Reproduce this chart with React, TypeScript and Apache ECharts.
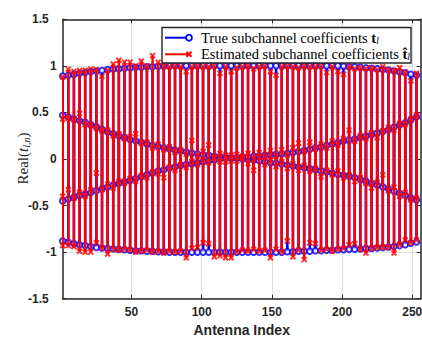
import React, { useEffect, useRef } from "react";
import * as echarts from "echarts";

// Antenna indices at which the subchannel coefficients are shown
const antennaIndex = [
  1, 5, 9, 13, 17, 21, 25, 29, 33, 37, 41, 45, 49, 53, 57, 61,
  65, 69, 73, 77, 81, 85, 89, 93, 97, 101, 105, 109, 113, 117, 121, 125,
  129, 133, 137, 141, 145, 149, 153, 157, 161, 165, 169, 173, 177, 181, 185, 189,
  193, 197, 201, 205, 209, 213, 217, 221, 225, 229, 233, 237, 241, 245, 249, 253,
];

// True subchannel coefficients (real part), four subchannels
const trueUpper = [
  0.89, 0.9, 0.91, 0.92, 0.93, 0.94, 0.945, 0.95,
  0.96, 0.965, 0.97, 0.975, 0.98, 0.985, 0.985, 0.99,
  0.99, 0.995, 0.995, 1.0, 1.0, 1.0, 1.0, 1.0,
  1.0, 1.0, 1.0, 1.0, 1.0, 1.0, 1.0, 1.0,
  1.0, 1.0, 1.0, 1.0, 1.0, 1.0, 1.0, 1.0,
  1.0, 1.0, 1.0, 1.0, 1.0, 1.0, 1.0, 1.0,
  1.0, 1.0, 0.995, 0.99, 0.99, 0.985, 0.98, 0.975,
  0.97, 0.96, 0.955, 0.945, 0.935, 0.925, 0.91, 0.9,
];
const trueLower = [
  -0.88, -0.895, -0.91, -0.92, -0.93, -0.94, -0.95, -0.955,
  -0.96, -0.965, -0.97, -0.975, -0.98, -0.985, -0.985, -0.99,
  -0.99, -0.995, -0.995, -1.0, -1.0, -1.0, -1.0, -1.0,
  -1.0, -1.0, -1.0, -1.0, -1.0, -1.0, -1.0, -1.0,
  -1.0, -1.0, -1.0, -1.0, -1.0, -1.0, -1.0, -1.0,
  -0.995, -0.995, -0.99, -0.99, -0.99, -0.985, -0.985, -0.98,
  -0.98, -0.975, -0.975, -0.97, -0.97, -0.965, -0.96, -0.96,
  -0.955, -0.95, -0.945, -0.94, -0.93, -0.92, -0.905, -0.89,
];
const trueFalling = [
  0.47, 0.45, 0.43, 0.41, 0.395, 0.37, 0.345, 0.32,
  0.29, 0.27, 0.25, 0.23, 0.21, 0.195, 0.18, 0.16,
  0.145, 0.135, 0.12, 0.11, 0.095, 0.085, 0.075, 0.065,
  0.055, 0.045, 0.04, 0.03, 0.025, 0.015, 0.01, 0.005,
  0.0, -0.005, -0.01, -0.02, -0.03, -0.04, -0.045, -0.055,
  -0.065, -0.075, -0.085, -0.095, -0.105, -0.115, -0.125, -0.14,
  -0.15, -0.165, -0.175, -0.185, -0.2, -0.22, -0.24, -0.26,
  -0.28, -0.3, -0.32, -0.345, -0.37, -0.39, -0.42, -0.44,
];
const trueRising = [
  -0.45, -0.43, -0.41, -0.39, -0.375, -0.36, -0.34, -0.32,
  -0.3, -0.28, -0.26, -0.245, -0.23, -0.21, -0.19, -0.17,
  -0.15, -0.13, -0.115, -0.1, -0.085, -0.07, -0.06, -0.05,
  -0.04, -0.03, -0.02, -0.01, 0.0, 0.005, 0.01, 0.015,
  0.02, 0.025, 0.03, 0.035, 0.04, 0.045, 0.05, 0.055,
  0.06, 0.07, 0.08, 0.09, 0.105, 0.12, 0.13, 0.145,
  0.16, 0.175, 0.19, 0.205, 0.215, 0.23, 0.245, 0.26,
  0.28, 0.295, 0.315, 0.34, 0.365, 0.39, 0.42, 0.45,
];

// Estimated subchannel coefficients (real part)
const estUpper = [
  0.88, 0.965, 0.94, 0.95, 0.95, 0.965, 0.96, 0.89,
  0.95, 1.02, 1.06, 1.04, 1.04, 1.0, 1.05, 1.0,
  1.11, 1.04, 1.0, 0.99, 1.0, 0.99, 0.94, 0.99,
  1.0, 0.99, 0.99, 1.0, 0.92, 0.99, 0.94, 0.98,
  0.99, 1.0, 0.97, 0.99, 1.0, 0.94, 0.9, 0.99,
  1.0, 0.99, 0.98, 1.0, 0.99, 0.99, 1.0, 0.93,
  0.99, 0.94, 0.91, 0.99, 0.97, 0.98, 0.97, 0.98,
  0.96, 0.99, 0.96, 0.95, 0.98, 0.93, 0.84, 0.92,
];
const estLower = [
  -0.93, -0.93, -0.94, -0.99, -1.0, -1.0, -0.9, -0.96,
  -1.02, -0.97, -0.98, -0.97, -0.98, -1.0, -0.99, -0.98,
  -1.0, -0.99, -1.01, -0.99, -1.0, -0.99, -1.06, -0.96,
  -0.95, -0.9, -0.91, -1.05, -1.04, -1.06, -1.06, -1.0,
  -0.98, -0.99, -0.97, -0.99, -0.98, -1.06, -0.97, -1.0,
  -0.88, -1.05, -0.98, -1.08, -0.9, -0.91, -0.98, -0.97,
  -0.99, -0.97, -0.96, -0.92, -0.91, -0.97, -1.01, -0.96,
  -0.95, -0.95, -0.95, -1.01, -0.92, -0.87, -0.9, -0.87,
];
const estFalling = [
  0.43, 0.44, 0.42, 0.49, 0.37, 0.36, 0.33, 0.3,
  0.31, 0.25, 0.27, 0.22, 0.24, 0.27, 0.17, 0.18,
  0.12, 0.16, 0.1, 0.13, 0.07, 0.1, 0.05, 0.2,
  0.03, 0.08, 0.15, 0.01, 0.06, -0.03, 0.04, -0.02,
  0.03, -0.05, -0.12, 0.02, -0.06, -0.01, -0.08, -0.03,
  -0.1, -0.05, -0.12, -0.07, -0.13, -0.1, -0.19, -0.12,
  -0.17, -0.13, -0.2, -0.17, -0.24, -0.2, -0.26, -0.31,
  -0.25, -0.17, -0.34, -0.3, -0.4, -0.36, -0.44, -0.42,
];
const estRising = [
  -0.4, -0.33, -0.42, -0.36, -0.4, -0.33, -0.15, -0.33,
  -0.27, -0.31, -0.24, -0.26, -0.21, -0.24, -0.18, -0.2,
  -0.14, -0.16, -0.2, -0.09, -0.12, -0.06, -0.09, -0.03,
  -0.06, -0.01, -0.04, 0.02, -0.03, 0.04, -0.02, 0.05,
  0.01, 0.06, 0.0, 0.07, 0.02, 0.09, 0.03, 0.1,
  0.04, 0.12, 0.17, 0.08, 0.18, 0.11, 0.16, 0.12,
  0.19, 0.15, 0.22, 0.31, 0.19, 0.25, 0.22, 0.28,
  0.23, 0.3, 0.34, 0.31, 0.38, 0.37, 0.43, 0.47,
];

const xTicks = [50, 100, 150, 200, 250];
const yTicks = [-1.5, -1, -0.5, 0, 0.5, 1, 1.5];

const BLUE = "#0000ff";
const RED = "#ff0000";
const AXIS = "#262626";
const GRID = "#dfdfdf";
const SERIF = "'Liberation Serif', 'DejaVu Serif', serif";
const SANS = "'Liberation Sans', Arial, sans-serif";

function toPoints(curves: number[][]): number[][] {
  const pts: number[][] = [];
  curves.forEach((curve) => {
    curve.forEach((v, i) => pts.push([antennaIndex[i], v]));
  });
  return pts;
}

function stemSeries(curves: number[][], color: string, width: number, z: number) {
  return {
    type: "custom",
    z,
    clip: true,
    data: toPoints(curves),
    encode: { x: 0, y: 1 },
    renderItem: (_params: any, api: any) => {
      const x = api.value(0);
      const y = api.value(1);
      const p0 = api.coord([x, 0]);
      const p1 = api.coord([x, y]);
      return {
        type: "line",
        shape: { x1: p0[0], y1: p0[1], x2: p1[0], y2: p1[1] },
        style: { stroke: color, lineWidth: width },
      };
    },
  };
}

const crossPath = "path://M0,0L10,10M10,0L0,10";

const legendRich = {
  b: { fontFamily: SERIF, fontSize: 14.5, fontWeight: "bold", fill: "#000000" },
  sub: {
    fontFamily: SERIF,
    fontSize: 9.5,
    fontStyle: "italic",
    fill: "#000000",
    verticalAlign: "bottom",
    padding: [6, 0, 0, 0],
  },
};

export default function App() {
  const ref = useRef<HTMLDivElement>(null);

  useEffect(() => {
    if (!ref.current) return;
    const chart = echarts.init(ref.current, null, { renderer: "svg" });

    const trueCurves = [trueUpper, trueLower, trueFalling, trueRising];
    const estCurves = [estUpper, estLower, estFalling, estRising];

    const axisCommon = {
      axisLine: { show: true, onZero: false, lineStyle: { color: AXIS, width: 1.5 } },
      axisTick: { show: true, inside: true, length: 4, lineStyle: { color: AXIS, width: 1 } },
    };

    const LZ = 50;

    const option: any = {
      animation: false,
      backgroundColor: "#ffffff",
      grid: {
        left: 62.7,
        right: 1.3,
        top: 19.3,
        bottom: 40.3,
        outerBoundsMode: "none",
        containLabel: false,
      },
      xAxis: [
        {
          type: "value",
          min: 1,
          max: 256,
          position: "bottom",
          ...axisCommon,
          axisTick: { ...axisCommon.axisTick, customValues: xTicks },
          axisLabel: {
            customValues: xTicks,
            color: AXIS,
            fontFamily: SANS,
            fontWeight: "bold",
            fontSize: 12,
            margin: 7,
          },
          splitLine: { show: true, lineStyle: { color: GRID, width: 1 } },
          name: "Antenna Index",
          nameLocation: "middle",
          nameGap: 23,
          nameTextStyle: { color: AXIS, fontFamily: SANS, fontWeight: "bold", fontSize: 14 },
        },
        {
          type: "value",
          min: 1,
          max: 256,
          position: "top",
          ...axisCommon,
          axisTick: { ...axisCommon.axisTick, customValues: xTicks },
          axisLabel: { show: false },
          splitLine: { show: false },
        },
      ],
      yAxis: [
        {
          type: "value",
          min: -1.5,
          max: 1.5,
          interval: 0.5,
          position: "left",
          ...axisCommon,
          axisLabel: {
            color: AXIS,
            fontFamily: SANS,
            fontWeight: "bold",
            fontSize: 12,
            margin: 6,
            formatter: (v: number) => {
              const tick = yTicks.find((t) => Math.abs(t - v) < 1e-9);
              const s = String(tick ?? v);
              return Number.isInteger(tick ?? v) ? s : `{d|${s}}`;
            },
            rich: {
              d: {
                color: AXIS,
                fontFamily: SANS,
                fontWeight: "bold",
                fontSize: 12,
                padding: [0, 8, 0, 0],
              },
            },
          },
          splitLine: { show: true, lineStyle: { color: GRID, width: 1 } },
        },
        {
          type: "value",
          min: -1.5,
          max: 1.5,
          interval: 0.5,
          position: "right",
          ...axisCommon,
          axisLabel: { show: false },
          splitLine: { show: false },
        },
      ],
      series: [
        stemSeries(trueCurves, BLUE, 2.6, 2),
        {
          type: "scatter",
          z: 3,
          data: toPoints(trueCurves),
          symbol: "emptyCircle",
          symbolSize: 5.5,
          itemStyle: { color: BLUE, borderColor: BLUE, borderWidth: 1.5 },
        },
        stemSeries(estCurves, RED, 2.4, 4),
        {
          type: "scatter",
          z: 5,
          data: toPoints(estCurves),
          symbol: crossPath,
          symbolSize: 5,
          itemStyle: { color: "none", borderColor: RED, borderWidth: 2 },
        },
      ],
      graphic: [
        // Y axis title
        {
          type: "text",
          x: 23,
          y: 158.5,
          rotation: Math.PI / 2,
          z: LZ,
          style: {
            text: "Real({it|t}{sub|l,n})",
            fontFamily: SERIF,
            fontSize: 15,
            fill: AXIS,
            align: "center",
            verticalAlign: "middle",
            rich: {
              it: { fontFamily: SERIF, fontSize: 15, fontStyle: "italic", fill: AXIS },
              sub: {
                fontFamily: SERIF,
                fontSize: 10,
                fontStyle: "italic",
                fill: AXIS,
                verticalAlign: "bottom",
                padding: [6, 0, 0, 0],
              },
            },
          },
        },
        // Legend box
        {
          type: "rect",
          z: LZ,
          shape: { x: 162, y: 27.5, width: 249, height: 35.5 },
          style: { fill: "#ffffff", stroke: AXIS, lineWidth: 1.4 },
        },
        {
          type: "line",
          z: LZ + 1,
          shape: { x1: 165, y1: 37.7, x2: 189, y2: 37.7 },
          style: { stroke: BLUE, lineWidth: 2 },
        },
        {
          type: "circle",
          z: LZ + 2,
          shape: { cx: 189, cy: 37.7, r: 3 },
          style: { fill: "#ffffff", stroke: BLUE, lineWidth: 1.8 },
        },
        {
          type: "line",
          z: LZ + 1,
          shape: { x1: 165, y1: 54.3, x2: 189, y2: 54.3 },
          style: { stroke: RED, lineWidth: 2 },
        },
        {
          type: "line",
          z: LZ + 2,
          shape: { x1: 186.5, y1: 51.8, x2: 191.5, y2: 56.8 },
          style: { stroke: RED, lineWidth: 2 },
        },
        {
          type: "line",
          z: LZ + 2,
          shape: { x1: 191.5, y1: 51.8, x2: 186.5, y2: 56.8 },
          style: { stroke: RED, lineWidth: 2 },
        },
        {
          type: "text",
          z: LZ + 1,
          x: 201,
          y: 37.5,
          style: {
            text: "True subchannel coefficients {b|t}{sub|l}",
            fontFamily: SERIF,
            fontSize: 14.5,
            fill: "#000000",
            verticalAlign: "middle",
            rich: legendRich,
          },
        },
        {
          type: "text",
          z: LZ + 1,
          x: 201,
          y: 54,
          style: {
            text: "Estimated subchannel coefficients {b|t\u0302}{sub|l}",
            fontFamily: SERIF,
            fontSize: 14.5,
            fill: "#000000",
            verticalAlign: "middle",
            rich: legendRich,
          },
        },
      ],
    };

    chart.setOption(option);
    return () => chart.dispose();
  }, []);

  return (
    <div
      ref={ref}
      style={{ position: "fixed", left: 0, top: 0, width: 422, height: 339, background: "#ffffff" }}
    />
  );
}
